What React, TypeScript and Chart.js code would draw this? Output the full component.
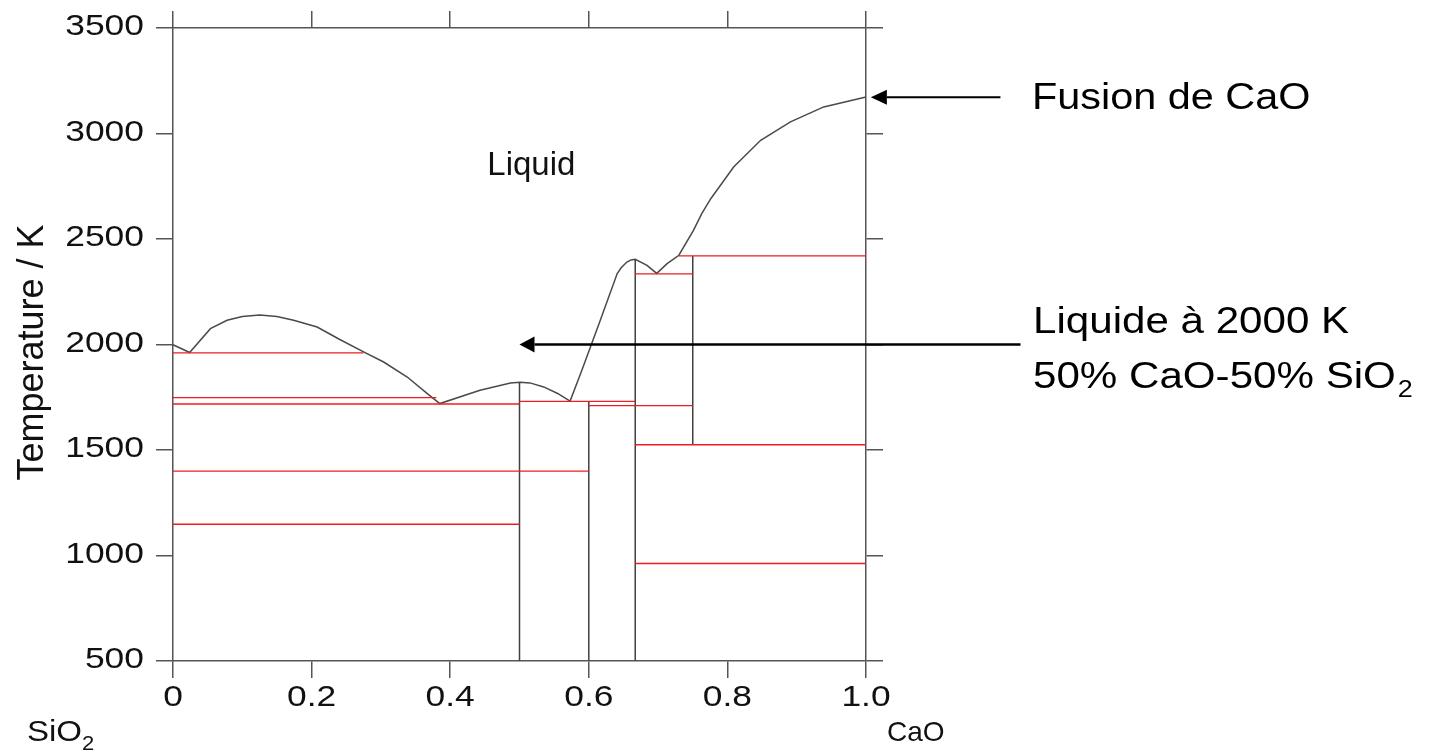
import { useEffect, useRef } from 'react';
import { Chart, registerables } from 'chart.js';

Chart.register(...registerables);

// Liquidus of the CaO–SiO2 system: mole fraction of CaO vs temperature (K)
const liquidusX = [
  0, 0.024, 0.054, 0.078, 0.1, 0.125, 0.15, 0.174, 0.208, 0.24, 0.275, 0.304, 0.338, 0.367,
  0.385, 0.443, 0.487, 0.501, 0.515, 0.535, 0.555, 0.573, 0.59, 0.6166, 0.641, 0.647, 0.655,
  0.661, 0.667, 0.684, 0.698, 0.713, 0.73, 0.751, 0.763, 0.776, 0.809, 0.848, 0.891, 0.939, 1.0,
];
const liquidusT = [
  1999, 1962, 2075, 2115, 2133, 2140, 2133, 2115, 2083, 2025, 1965, 1917, 1846, 1767,
  1720, 1783, 1818, 1821, 1818, 1799, 1768, 1732, 1878, 2115, 2336, 2365, 2391,
  2401, 2404, 2375, 2337, 2383, 2423, 2541, 2620, 2691, 2841, 2968, 3055, 3126, 3173,
];

// Invariant isotherms (red): temperature and composition span
const isoT = [1960, 1748, 1718, 1400, 1148, 1730, 1710, 2335, 2420, 1525, 962];
const isoFrom = [0, 0, 0, 0, 0, 0.5, 0.6, 0.667, 0.73, 0.667, 0.667];
const isoTo = [0.275, 0.38, 0.5, 0.6, 0.5, 0.667, 0.75, 0.75, 1.0, 1.0, 1.0];

// Compound lines (vertical): composition and temperature span
const compoundX = [0.5, 0.6, 0.667, 0.75];
const compoundFrom = [500, 500, 500, 1525];
const compoundTo = [1821, 1730, 2404, 2420];

// Axis ticks
const xTicks = [0, 0.2, 0.4, 0.6, 0.8, 1.0];
const xTickLabels = ['0', '0.2', '0.4', '0.6', '0.8', '1.0'];
const yTicks = [500, 1000, 1500, 2000, 2500, 3000, 3500];
const yTickLabels = ['500', '1000', '1500', '2000', '2500', '3000', '3500'];

// Annotation arrows: tail and tip in data coordinates
const fusionArrow = { tailX: 1.194, tipX: 1.007, T: 3172 };
const liquidArrow = { tailX: 1.223, tipX: 0.5, T: 2000 };

const FONT = '"Liberation Sans", Arial, Helvetica, sans-serif';
const AXIS = '#555555';

function drawText(
  ctx: CanvasRenderingContext2D,
  text: string,
  x: number,
  y: number,
  size: number,
  align: CanvasTextAlign,
  sx: number,
): number {
  ctx.save();
  ctx.font = `${size}px ${FONT}`;
  ctx.textAlign = align;
  ctx.textBaseline = 'alphabetic';
  const w = ctx.measureText(text).width * sx;
  ctx.translate(x, y);
  ctx.scale(sx, 1);
  ctx.fillText(text, 0, 0);
  ctx.restore();
  return w;
}

function drawArrow(
  ctx: CanvasRenderingContext2D,
  x0: number,
  y0: number,
  x1: number,
  y1: number,
  lw: number,
  head: number,
  half: number,
) {
  const a = Math.atan2(y1 - y0, x1 - x0);
  const bx = x1 - head * Math.cos(a);
  const by = y1 - head * Math.sin(a);
  ctx.save();
  ctx.strokeStyle = '#000';
  ctx.fillStyle = '#000';
  ctx.lineWidth = lw;
  ctx.beginPath();
  ctx.moveTo(x0, y0);
  ctx.lineTo(bx, by);
  ctx.stroke();
  ctx.beginPath();
  ctx.moveTo(x1, y1);
  ctx.lineTo(bx - half * Math.sin(a), by + half * Math.cos(a));
  ctx.lineTo(bx + half * Math.sin(a), by - half * Math.cos(a));
  ctx.closePath();
  ctx.fill();
  ctx.restore();
}

const annotations = {
  id: 'phaseLabels',
  afterDraw(chart: any) {
    const ctx: CanvasRenderingContext2D = chart.ctx;
    const xs = chart.scales.x;
    const ys = chart.scales.y;
    ctx.save();
    ctx.fillStyle = '#111';

    // tick labels
    xTicks.forEach((v, i) => {
      drawText(ctx, xTickLabels[i], xs.getPixelForValue(v), ys.bottom + 45, 30, 'center', 1.18);
    });
    yTicks.forEach((v, i) => {
      drawText(ctx, yTickLabels[i], xs.left - 29, ys.getPixelForValue(v) + 7, 30, 'right', 1.18);
    });

    // y axis title
    ctx.save();
    ctx.font = `36px ${FONT}`;
    ctx.textAlign = 'center';
    ctx.textBaseline = 'alphabetic';
    ctx.translate(43, (ys.top + ys.bottom) / 2 + 8);
    ctx.rotate(-Math.PI / 2);
    ctx.fillText('Temperature / K', 0, 0);
    ctx.restore();

    // component names under the axis ends
    const w1 = drawText(ctx, 'SiO', 27, 741, 30, 'left', 1.1);
    drawText(ctx, '2', 27 + w1, 750, 20, 'left', 1.1);
    drawText(ctx, 'CaO', xs.right + 21, 741, 28, 'left', 1.0);

    // phase field label
    drawText(ctx, 'Liquid', xs.getPixelForValue(0.4535), ys.getPixelForValue(2802), 33, 'left', 1.0);

    // arrows
    drawArrow(
      ctx,
      xs.getPixelForValue(fusionArrow.tailX), ys.getPixelForValue(fusionArrow.T),
      xs.getPixelForValue(fusionArrow.tipX), ys.getPixelForValue(fusionArrow.T),
      2, 16, 7.5,
    );
    drawArrow(
      ctx,
      xs.getPixelForValue(liquidArrow.tailX), ys.getPixelForValue(liquidArrow.T),
      xs.getPixelForValue(liquidArrow.tipX), ys.getPixelForValue(liquidArrow.T),
      2.5, 15, 8,
    );

    // side notes
    ctx.fillStyle = '#000';
    drawText(ctx, 'Fusion de CaO', 1032, 109, 36, 'left', 1.15);
    drawText(ctx, 'Liquide à 2000 K', 1033, 333, 36, 'left', 1.17);
    const w2 = drawText(ctx, '50% CaO-50% SiO', 1033, 388, 36, 'left', 1.17);
    drawText(ctx, '2', 1033 + w2 + 2, 397, 23, 'left', 1.17);
    ctx.restore();
  },
};

function axisScale(axis: 'x' | 'y', position: string, min: number, max: number, step: number) {
  return {
    type: 'linear',
    axis,
    position,
    min,
    max,
    z: 1,
    ticks: { display: false, stepSize: step },
    grid: {
      drawOnChartArea: false,
      drawTicks: true,
      tickLength: 17,
      color: AXIS,
      lineWidth: 1.5,
    },
    border: { display: true, color: AXIS, width: 1.5 },
  };
}

export default function App() {
  const canvasRef = useRef<HTMLCanvasElement | null>(null);

  useEffect(() => {
    const canvas = canvasRef.current;
    if (!canvas) return;

    const line = (data: { x: number; y: number }[], color: string, width: number) => ({
      data,
      showLine: true,
      borderColor: color,
      borderWidth: width,
      pointRadius: 0,
      pointHoverRadius: 0,
      tension: 0,
      fill: false,
      clip: false,
    });

    const datasets: any[] = [];
    isoT.forEach((t, i) => {
      datasets.push(line([{ x: isoFrom[i], y: t }, { x: isoTo[i], y: t }], '#ec1c24', 1.3));
    });
    compoundX.forEach((x, i) => {
      datasets.push(line([{ x, y: compoundFrom[i] }, { x, y: compoundTo[i] }], '#404040', 1.5));
    });
    datasets.push(
      line(
        liquidusX.map((x, i) => ({ x, y: liquidusT[i] })),
        '#4a4a4a',
        1.5,
      ),
    );

    const chart = new Chart(canvas, {
      type: 'scatter',
      data: { datasets },
      options: {
        animation: false,
        responsive: false,
        devicePixelRatio: 1,
        events: [],
        layout: { padding: { left: 156, top: 11, right: 549, bottom: 75 } },
        plugins: { legend: { display: false }, tooltip: { enabled: false } },
        scales: {
          x: axisScale('x', 'bottom', 0, 1, 0.2),
          x2: axisScale('x', 'top', 0, 1, 0.2),
          y: axisScale('y', 'left', 500, 3500, 500),
          y2: axisScale('y', 'right', 500, 3500, 500),
        } as any,
      },
      plugins: [annotations],
    });

    return () => chart.destroy();
  }, []);

  return (
    <div style={{ position: 'fixed', left: 0, top: 0, width: 1432, height: 753, background: '#fff' }}>
      <canvas ref={canvasRef} width={1432} height={753} style={{ width: 1432, height: 753 }} />
    </div>
  );
}
